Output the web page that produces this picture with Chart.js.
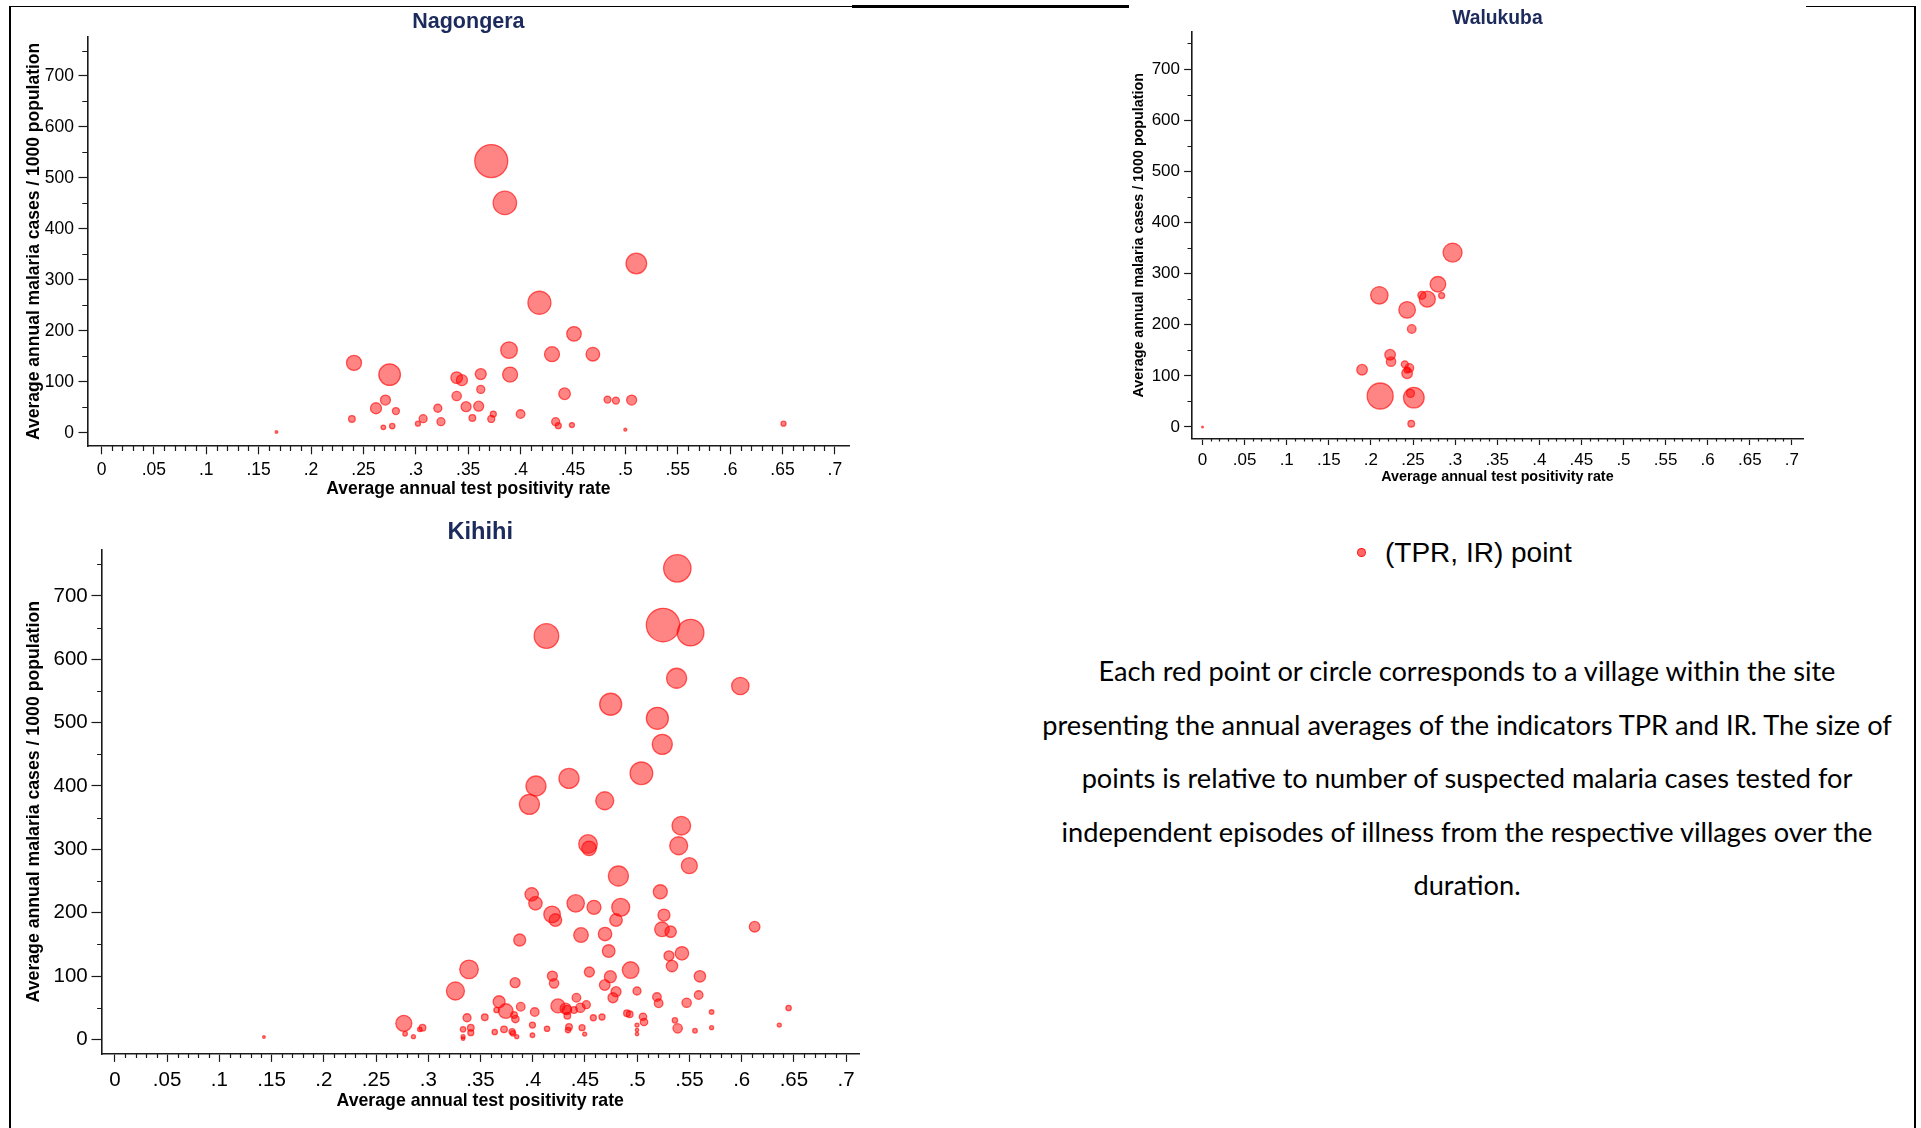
<!DOCTYPE html>
<html>
<head>
<meta charset="utf-8">
<script src="https://cdn.jsdelivr.net/npm/chart.js@4.4.1/dist/chart.umd.min.js"></script>
<style>
    html, body { margin: 0; padding: 0; background: #fff; }
    body { position: relative; width: 1921px; height: 1128px; overflow: hidden; font-family: 'Liberation Sans', Arial, sans-serif; }
    canvas { position: absolute; }
    .frame { position: absolute; background: #000; }
    #legend { position: absolute; left: 1357px; top: 536px; height: 34px; line-height: 34px; font-size: 28px; color: #000; white-space: nowrap; }
    #legend .dot { display: inline-block; width: 7px; height: 7px; border-radius: 50%; background: rgba(255, 0, 0, 0.6); border: 1px solid rgba(255, 0, 0, 0.8); vertical-align: middle; margin-right: 19px; position: relative; top: -2px; }
    #note { position: absolute; left: 1017px; top: 644px; width: 900px; text-align: center; font-family: Lato, 'Open Sans', sans-serif; font-size: 27.2px; line-height: 53.6px; color: #000; white-space: nowrap; }
</style>
</head>
<body>
<div class="frame" style="left:10px; top:6px; width:842px; height:1px;"></div>
<div class="frame" style="left:852px; top:5px; width:277px; height:3px;"></div>
<div class="frame" style="left:1806px; top:6px; width:110px; height:1px;"></div>
<div class="frame" style="left:9px; top:6px; width:2px; height:1122px;"></div>
<div class="frame" style="left:1914px; top:6px; width:2px; height:1122px;"></div>

<canvas id="nagongera"></canvas>
<canvas id="walukuba"></canvas>
<canvas id="kihihi"></canvas>

<div id="legend"><span class="dot"></span>(TPR, IR) point</div>
<div id="note">
    Each red point or circle corresponds to a village within the site<br>
    presenting the annual averages of the indicators TPR and IR. The size of<br>
    points is relative to number of suspected malaria cases tested for<br>
    independent episodes of illness from the respective villages over the<br>
    duration.
</div>

<script>
// оси: подписи делений
const xTickValues = [0, 0.05, 0.1, 0.15, 0.2, 0.25, 0.3, 0.35, 0.4, 0.45, 0.5, 0.55, 0.6, 0.65, 0.7];
const xTickLabels = ['0', '.05', '.1', '.15', '.2', '.25', '.3', '.35', '.4', '.45', '.5', '.55', '.6', '.65', '.7'];
const yTickValues = [0, 100, 200, 300, 400, 500, 600, 700];
const yTickLabels = ['0', '100', '200', '300', '400', '500', '600', '700'];

// мелкие деления без подписей
const xMinorTicks = [];
for (let i = 1; i < 70; i++) {
    if (i % 5 !== 0) xMinorTicks.push(i / 100);
}
const yMinorTicks = [50, 150, 250, 350, 450, 550, 650, 750];

// Nagongera: TPR, IR (на 1000), число протестированных случаев
const nagTpr = [0.372, 0.385, 0.5105, 0.418, 0.451, 0.389, 0.430, 0.469, 0.241, 0.275,
    0.339, 0.344, 0.362, 0.390, 0.362, 0.339, 0.442, 0.271, 0.483, 0.491,
    0.506, 0.262, 0.281, 0.321, 0.348, 0.360, 0.374, 0.400, 0.239, 0.307,
    0.354, 0.372, 0.324, 0.4335, 0.436, 0.449, 0.2775, 0.269, 0.302, 0.500,
    0.651, 0.167];
const nagIr = [533, 451, 332, 255, 194, 162, 154, 154, 137, 114,
    108, 103, 115, 114, 85, 72, 76.5, 64, 65, 63,
    64, 48, 42.5, 48, 51, 52, 36.6, 36.6, 27, 27.5,
    29, 27, 21.6, 21.6, 13.7, 15, 13, 10.5, 17.7, 6,
    17.7, 1.3];
const nagTested = [1089, 548, 424, 529, 213, 276, 225, 185, 225, 467,
    135, 121, 121, 225, 64, 88, 135, 100, 49, 49,
    100, 121, 49, 64, 100, 100, 36, 74, 44, 64,
    44, 49, 64, 64, 36, 25, 29, 21, 25, 9,
    25, 7];

// Walukuba
const walTpr = [0.211, 0.251, 0.247, 0.297, 0.210, 0.2796, 0.267, 0.2605, 0.284, 0.243,
    0.2485, 0.2228, 0.2239, 0.1895, 0.2403, 0.2457, 0.243, 0.243, 0.2479, 0];
const walIr = [60.6, 57.4, 65.8, 341, 257.5, 279, 250, 257.5, 257, 229,
    191.6, 141.4, 127.8, 112, 122.5, 115.4, 105, 111.5, 6.5, 0];
const walTested = [676, 424, 64, 361, 303, 243, 256, 64, 36, 276,
    74, 112, 88, 112, 49, 74, 112, 36, 44, 3];

// Kihihi
const kihTpr = [0.5384, 0.5247, 0.5511, 0.4131, 0.5377, 0.5987, 0.4746, 0.5193, 0.524, 0.504,
    0.4347, 0.4031, 0.3968, 0.4689, 0.5422, 0.5397, 0.4529, 0.4539, 0.5499, 0.482,
    0.5221, 0.399, 0.4026, 0.4185, 0.4217, 0.4411, 0.4586, 0.4842, 0.4797, 0.5256,
    0.5237, 0.532, 0.6124, 0.4462, 0.4692, 0.3875, 0.4727, 0.5304, 0.5428, 0.5333,
    0.56, 0.4937, 0.4542, 0.4743, 0.4689, 0.4188, 0.4204, 0.4797, 0.4768, 0.4998,
    0.5189, 0.5205, 0.5473, 0.5588, 0.5712, 0.6449, 0.636, 0.5712, 0.5553, 0.5387,
    0.5361, 0.5055, 0.5065, 0.4998, 0.4998, 0.4998, 0.4902, 0.4928, 0.458, 0.4663,
    0.4472, 0.4497, 0.4347, 0.4338, 0.4418, 0.4513, 0.4456, 0.4395, 0.4328, 0.4331,
    0.4241, 0.4315, 0.339, 0.326, 0.3831, 0.3678, 0.3742, 0.3653, 0.3821, 0.3834,
    0.3885, 0.4019, 0.3371, 0.3541, 0.2766, 0.2945, 0.2919, 0.2778, 0.2858, 0.3333,
    0.3407, 0.3407, 0.3333, 0.3333, 0.3636, 0.3725, 0.3802, 0.3811, 0.3847, 0.3997,
    0.3997, 0.4137, 0.1427];
const kihIr = [743.5, 654, 642, 636.7, 570, 557.8, 529, 506.8, 465.7, 420,
    412, 400, 371, 376.7, 337.3, 305.7, 308.4, 301.6, 274.2, 257.9,
    233.1, 229, 214.8, 197.4, 188.4, 214.8, 208.5, 208.5, 188.4, 196.3,
    173.8, 170, 177.9, 164.8, 166.3, 156.9, 139.5, 132, 135.9, 115.8,
    99.6, 109.5, 106.4, 99, 85.9, 100, 88.5, 75.3, 65.8, 76.4,
    66.9, 57, 57.9, 70, 43.2, 49.6, 22.7, 18.5, 13.7, 17.5,
    30.1, 35.8, 27.5, 22.7, 14.8, 8.5, 41.2, 39.6, 34.2, 35.4,
    18.5, 8.5, 19.6, 14.8, 65.8, 54.8, 50, 46.4, 46.4, 37.4,
    52.9, 48.6, 110.6, 76.4, 89.5, 59.5, 44.8, 46.4, 38.5, 32.2,
    51.6, 43.2, 34.2, 34.9, 25.4, 18.5, 15.9, 9, 4.3, 15.9,
    18.5, 10.6, 4.3, 1.1, 11.7, 15.9, 12.2, 9.6, 4.3, 22.7,
    6.5, 16.9, 3.8];
const kihTested = [751, 1116, 708, 605, 400, 303, 484, 484, 400, 511,
    400, 400, 400, 324, 346, 324, 346, 213, 256, 400,
    196, 180, 180, 276, 159, 303, 196, 324, 159, 144,
    213, 130, 112, 213, 180, 144, 159, 100, 180, 130,
    130, 276, 100, 144, 112, 100, 88, 100, 100, 64,
    74, 74, 88, 74, 21, 29, 16, 16, 21, 88,
    29, 55, 55, 16, 12, 12, 44, 44, 36, 36,
    36, 16, 44, 29, 74, 64, 88, 44, 88, 44,
    196, 121, 346, 324, 100, 144, 213, 29, 44, 55,
    74, 74, 64, 44, 256, 44, 21, 21, 16, 29,
    44, 36, 16, 12, 29, 44, 36, 29, 16, 36,
    21, 29, 7];

const axisColor = '#1a1a1a';
const titleColor = '#1c2a5c';
Chart.defaults.font.family = "'Liberation Sans', Arial, sans-serif";
Chart.defaults.color = '#000';

// площадь кружка пропорциональна числу протестированных
function markerRadius(tested) {
    return Math.sqrt(tested) / 2;
}

// короткие деления между подписанными
const minorTicksPlugin = {
    id: 'minorTicks',
    afterDraw(chart, args, opts) {
        const {ctx, chartArea} = chart;
        const xScale = chart.scales.x;
        const yScale = chart.scales.y;
        ctx.save();
        ctx.strokeStyle = axisColor;
        ctx.lineWidth = 1.2;
        ctx.beginPath();
        opts.xValues.forEach((v) => {
            const px = Math.round(xScale.getPixelForValue(v)) + 0.5;
            ctx.moveTo(px, chartArea.bottom);
            ctx.lineTo(px, chartArea.bottom + opts.xLength);
        });
        opts.yValues.forEach((v) => {
            const py = Math.round(yScale.getPixelForValue(v)) + 0.5;
            ctx.moveTo(chartArea.left - opts.yLength, py);
            ctx.lineTo(chartArea.left, py);
        });
        ctx.stroke();
        ctx.restore();
    }
};

const panels = [
    {
        id: 'nagongera', title: 'Nagongera',
        tpr: nagTpr, ir: nagIr, tested: nagTested,
        canvas: {left: 12, top: 8, width: 860, height: 496},
        plot: {left: 87.8, top: 36.7, right: 849, bottom: 446},
        xRange: [-0.0131, 0.7135], yRange: [-26.1, 777.1],
        titleY: 21.7, titleSize: 21.5,
        yTitleX: 34, xTitleY: 489, axisTitleSize: 17.5,
        tickSize: 17.5, xLabelY: 470, yLabelRight: 74,
        xMajor: 8.3, xMinor: 5, yMajor: 9.3, yMinor: 5.5,
    },
    {
        id: 'walukuba', title: 'Walukuba',
        tpr: walTpr, ir: walIr, tested: walTested,
        canvas: {left: 1122, top: 2, width: 700, height: 494},
        plot: {left: 1191.5, top: 32.3, right: 1803.4, bottom: 438.3},
        xRange: [-0.0131, 0.7137], yRange: [-22.1, 771.8],
        titleY: 18.3, titleSize: 19.3,
        yTitleX: 1139, xTitleY: 477, axisTitleSize: 14.3,
        tickSize: 17, xLabelY: 460, yLabelRight: 1180,
        xMajor: 6.7, xMinor: 3.3, yMajor: 7.4, yMinor: 4,
    },
    {
        id: 'kihihi', title: 'Kihihi',
        tpr: kihTpr, ir: kihIr, tested: kihTested,
        canvas: {left: 12, top: 506, width: 870, height: 616},
        plot: {left: 101.5, top: 549.4, right: 859, bottom: 1054},
        xRange: [-0.0128, 0.7123], yRange: [-23.0, 773.4],
        titleY: 532.9, titleSize: 23.6,
        yTitleX: 34.4, xTitleY: 1101, axisTitleSize: 17.7,
        tickSize: 20.5, xLabelY: 1080.7, yLabelRight: 87.7,
        xMajor: 7.9, xMinor: 4, yMajor: 10, yMinor: 4.4,
    },
];

function buildChart(p) {
    const canvas = document.getElementById(p.id);
    canvas.width = p.canvas.width;
    canvas.height = p.canvas.height;
    canvas.style.left = p.canvas.left + 'px';
    canvas.style.top = p.canvas.top + 'px';
    canvas.style.width = p.canvas.width + 'px';
    canvas.style.height = p.canvas.height + 'px';

    // размеры блоков раскладки, чтобы область графика встала на место
    const yAxisWidth = p.plot.left - p.canvas.left;
    const xAxisHeight = p.canvas.top + p.canvas.height - p.plot.bottom;
    const rightPad = p.canvas.left + p.canvas.width - p.plot.right;
    const titleLh = p.titleSize * 1.2;
    const titleTop = p.titleY - p.canvas.top - titleLh / 2;
    const titleBottom = (p.plot.top - p.canvas.top) - titleTop - titleLh;
    const axisLh = p.axisTitleSize * 1.2;
    const tickLh = p.tickSize * 1.2;

    return new Chart(canvas, {
        type: 'scatter',
        data: {
            datasets: [{
                data: p.tpr.map((x, i) => ({x, y: p.ir[i]})),
                pointRadius: (ctx) => markerRadius(p.tested[ctx.dataIndex]),
                pointHoverRadius: (ctx) => markerRadius(p.tested[ctx.dataIndex]),
                pointBackgroundColor: 'rgba(255, 0, 0, 0.48)',
                pointBorderColor: 'rgba(255, 0, 0, 0.62)',
                pointBorderWidth: 1.3,
            }]
        },
        options: {
            responsive: false,
            animation: false,
            events: [],
            layout: {padding: {left: 0, top: 0, right: rightPad, bottom: 0}},
            plugins: {
                legend: {display: false},
                tooltip: {enabled: false},
                title: {
                    display: true,
                    text: p.title,
                    fullSize: false,
                    color: titleColor,
                    font: {size: p.titleSize, weight: 'bold', lineHeight: 1.2},
                    padding: {top: titleTop, bottom: titleBottom},
                },
                minorTicks: {
                    xValues: xMinorTicks, yValues: yMinorTicks,
                    xLength: p.xMinor, yLength: p.yMinor,
                },
            },
            scales: {
                x: {
                    type: 'linear',
                    min: p.xRange[0],
                    max: p.xRange[1],
                    afterBuildTicks: (scale) => { scale.ticks = xTickValues.map((v) => ({value: v})); },
                    afterFit: (scale) => { scale.height = xAxisHeight; },
                    ticks: {
                        autoSkip: false, maxRotation: 0, minRotation: 0,
                        padding: p.xLabelY - p.plot.bottom - p.xMajor - tickLh / 2,
                        font: {size: p.tickSize, lineHeight: 1.2},
                        color: '#000',
                        callback: (v, i) => xTickLabels[i],
                    },
                    grid: {drawOnChartArea: false, tickLength: p.xMajor, tickWidth: 1.2, tickColor: axisColor},
                    border: {display: true, color: axisColor, width: 1.6},
                    title: {
                        display: true,
                        text: 'Average annual test positivity rate',
                        color: '#000',
                        font: {size: p.axisTitleSize, weight: 'bold', lineHeight: 1.2},
                        padding: {top: 0, bottom: p.canvas.top + p.canvas.height - p.xTitleY - axisLh / 2},
                    },
                },
                y: {
                    type: 'linear',
                    min: p.yRange[0],
                    max: p.yRange[1],
                    afterBuildTicks: (scale) => { scale.ticks = yTickValues.map((v) => ({value: v})); },
                    afterFit: (scale) => { scale.width = yAxisWidth; },
                    ticks: {
                        autoSkip: false,
                        padding: p.plot.left - p.yLabelRight - p.yMajor,
                        font: {size: p.tickSize, lineHeight: 1.2},
                        color: '#000',
                        callback: (v, i) => yTickLabels[i],
                    },
                    grid: {drawOnChartArea: false, tickLength: p.yMajor, tickWidth: 1.2, tickColor: axisColor},
                    border: {display: true, color: axisColor, width: 1.6},
                    title: {
                        display: true,
                        text: 'Average annual malaria cases / 1000 population',
                        color: '#000',
                        font: {size: p.axisTitleSize, weight: 'bold', lineHeight: 1.2},
                        padding: {top: p.yTitleX - p.canvas.left - axisLh / 2, bottom: 0},
                    },
                },
            },
        },
        plugins: [minorTicksPlugin],
    });
}

panels.forEach(buildChart);
</script>
</body>
</html>
